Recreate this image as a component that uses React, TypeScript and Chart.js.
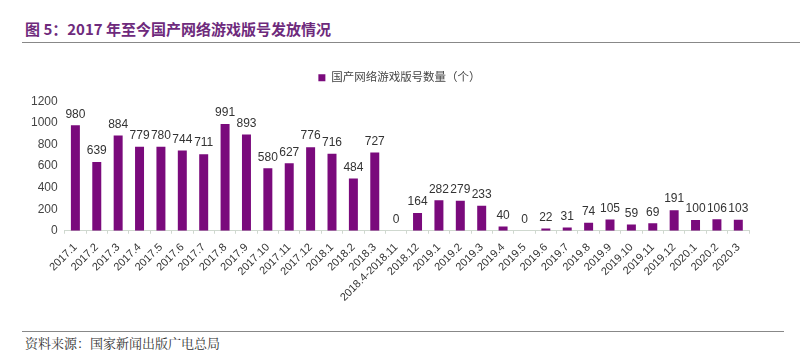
import React, { useEffect, useRef } from "react";
import { Chart, registerables } from "chart.js";

Chart.register(...registerables);

const categories = [
  "2017.1", "2017.2", "2017.3", "2017.4", "2017.5", "2017.6", "2017.7", "2017.8", "2017.9",
  "2017.10", "2017.11", "2017.12", "2018.1", "2018.2", "2018.3", "2018.4-2018.11", "2018.12",
  "2019.1", "2019.2", "2019.3", "2019.4", "2019.5", "2019.6", "2019.7", "2019.8", "2019.9",
  "2019.10", "2019.11", "2019.12", "2020.1", "2020.2", "2020.3",
];
const seriesValues = [
  980, 639, 884, 779, 780, 744, 711, 991, 893, 580, 627, 776, 716, 484, 727, 0, 164,
  282, 279, 233, 40, 0, 22, 31, 74, 105, 59, 69, 191, 100, 106, 103,
];
const seriesName = "国产网络游戏版号数量（个）";
const yTicks = [0, 200, 400, 600, 800, 1000, 1200];

const FONT = "Arial, 'Liberation Sans', 'Noto Sans CJK SC', sans-serif";

const valueLabels = {
  id: "valueLabels",
  afterDatasetsDraw(chart: any) {
    const ctx = chart.ctx;
    const meta = chart.getDatasetMeta(0);
    const data = chart.data.datasets[0].data;
    ctx.save();
    ctx.font = `12px ${FONT}`;
    ctx.fillStyle = "#333333";
    ctx.textAlign = "center";
    ctx.textBaseline = "bottom";
    meta.data.forEach((bar: any, i: number) => {
      ctx.fillText(String(data[i]), bar.x, bar.y - 5);
    });
    ctx.restore();
  },
};

const legendShift = {
  id: "legendShift",
  afterLayout(chart: any) {
    if (chart.legend) {
      chart.legend.left += 13;
      chart.legend.right += 13;
      chart.legend.top -= 8;
      chart.legend.bottom -= 8;
    }
  },
};

export default function App() {
  const ref = useRef<HTMLCanvasElement>(null);
  useEffect(() => {
    document.body.style.margin = "0";
    const chart = new Chart(ref.current!, {
      type: "bar",
      data: {
        labels: categories,
        datasets: [
          {
            label: seriesName,
            data: seriesValues,
            backgroundColor: "#7a0a7c",
            barPercentage: 0.42,
            categoryPercentage: 1,
          },
        ],
      },
      options: {
        animation: false,
        responsive: true,
        maintainAspectRatio: false,
        layout: { padding: { left: 24, right: 36, top: 0, bottom: 0 } },
        plugins: {
          legend: {
            display: true,
            labels: {
              boxWidth: 7,
              boxHeight: 7,
              font: { size: 11.5, family: FONT },
              color: "#444444",
              padding: 16,
            },
          },
          tooltip: { enabled: false },
        },
        scales: {
          x: {
            afterFit(axis: any) {
              axis.paddingLeft = 0;
              axis.paddingRight = 0;
            },
            grid: { display: true, drawOnChartArea: false, color: "#cfd8cf", tickLength: 3 },
            border: { color: "#cfd8cf" },
            ticks: {
              autoSkip: false,
              maxRotation: 45,
              minRotation: 45,
              font: { size: 11, family: FONT },
              color: "#333333",
              padding: 7,
            },
          },
          y: {
            min: 0,
            max: 1200,
            afterBuildTicks(axis: any) {
              axis.ticks = yTicks.map((v) => ({ value: v }));
            },
            grid: { display: false, drawTicks: false },
            border: { display: false },
            ticks: {
              font: { size: 12, family: FONT },
              color: "#444444",
              padding: 7,
              callback: (v: any) => String(v),
            },
          },
        },
      },
      plugins: [valueLabels, legendShift],
    });
    return () => chart.destroy();
  }, []);

  return (
    <div style={{ position: "relative", width: 800, height: 353, background: "#fff", fontFamily: FONT, overflow: "hidden" }}>
      <div style={{ position: "absolute", left: 25, top: 18, fontSize: 15, fontWeight: "bold", color: "#6e2a7c", fontFamily: "'Noto Sans CJK SC', sans-serif" }}>
        图 5：2017 年至今国产网络游戏版号发放情况
      </div>
      <div style={{ position: "absolute", left: 22, top: 42, width: 778, height: 1, background: "#888" }} />
      <div style={{ position: "absolute", left: 0, top: 64, width: 785, height: 247 }}>
        <canvas ref={ref} />
      </div>
      <div style={{ position: "absolute", left: 22, top: 331, width: 762, height: 1, background: "#888" }} />
      <div style={{ position: "absolute", left: 25, top: 333, fontSize: 13, color: "#333", fontFamily: "'Noto Serif CJK SC', 'Noto Sans CJK SC', serif" }}>
        资料来源：国家新闻出版广电总局
      </div>
    </div>
  );
}
